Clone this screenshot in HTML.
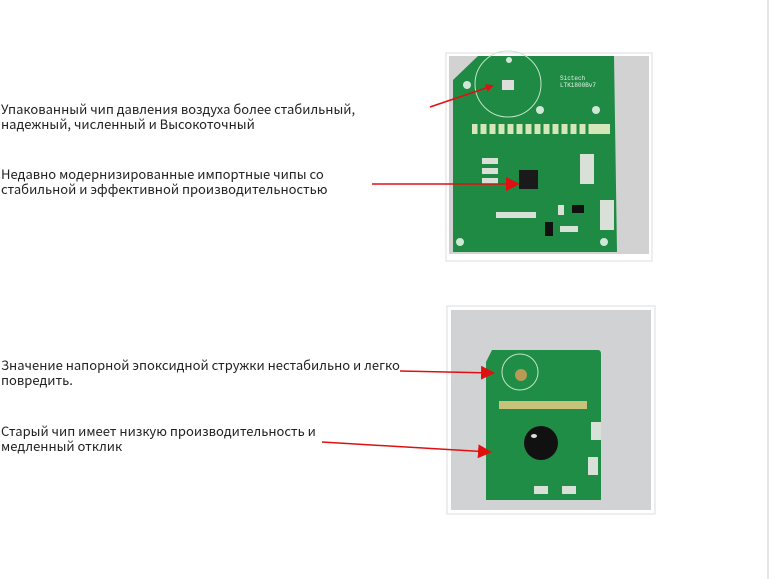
<!DOCTYPE html>
<html><head><meta charset="utf-8"><style>
body{margin:0;width:774px;height:579px;background:#fff;position:relative;overflow:hidden;font-family:"Noto Sans CJK SC","Liberation Sans",sans-serif;}
.t{position:absolute;left:1px;font-size:13px;line-height:15px;color:#222;white-space:nowrap;}
svg{position:absolute;left:0;top:0}
</style></head><body>
<svg width="774" height="579">
<defs><marker id="a" markerWidth="8" markerHeight="8" refX="6" refY="4" orient="auto" markerUnits="userSpaceOnUse"><path d="M0,0 L8,4 L0,8z" fill="#e01010"/></marker>
<marker id="b" markerWidth="14" markerHeight="14" refX="12" refY="7" orient="auto" markerUnits="userSpaceOnUse"><path d="M0,0 L14,7 L0,14z" fill="#e01010"/></marker></defs>
<line x1="768" y1="0" x2="768" y2="579" stroke="#e4e4e4" stroke-width="2"/>
<rect x="446" y="53" width="206" height="208" fill="#fff" stroke="#ddd"/>
<rect x="449" y="56" width="200" height="198" fill="#d2d2d2"/>
<path d="M478,56 L614,56 L617,252 L453,252 L453,80 Z" fill="#1e8a43"/>
<circle cx="508" cy="84" r="33" fill="none" stroke="#bfe5c9" stroke-width="1"/>
<rect x="502" y="80" width="12" height="10" fill="#ddd"/>
<g fill="#cfe8d6"><circle cx="467" cy="85" r="4"/><circle cx="540" cy="110" r="4"/><circle cx="596" cy="110" r="4"/><circle cx="509" cy="60" r="3"/><circle cx="460" cy="242" r="4"/><circle cx="604" cy="242" r="4"/></g>
<rect x="472" y="124" width="138" height="10" fill="#d5e6b8"/>
<g stroke="#1e8a43" stroke-width="3"><line x1="479" y1="124" x2="479" y2="134"/><line x1="488" y1="124" x2="488" y2="134"/><line x1="497" y1="124" x2="497" y2="134"/><line x1="506" y1="124" x2="506" y2="134"/><line x1="515" y1="124" x2="515" y2="134"/><line x1="524" y1="124" x2="524" y2="134"/><line x1="533" y1="124" x2="533" y2="134"/><line x1="542" y1="124" x2="542" y2="134"/><line x1="551" y1="124" x2="551" y2="134"/><line x1="560" y1="124" x2="560" y2="134"/><line x1="569" y1="124" x2="569" y2="134"/><line x1="578" y1="124" x2="578" y2="134"/><line x1="587" y1="124" x2="587" y2="134"/></g>
<rect x="519" y="170" width="19" height="19" fill="#1a1a1a"/>
<g fill="#d8e0d8"><rect x="482" y="158" width="16" height="6"/><rect x="482" y="168" width="16" height="6"/><rect x="482" y="178" width="16" height="6"/><rect x="496" y="212" width="40" height="6"/><rect x="558" y="205" width="6" height="10"/><rect x="560" y="226" width="18" height="6"/><rect x="580" y="154" width="14" height="30"/><rect x="600" y="200" width="14" height="30"/></g>
<rect x="572" y="205" width="12" height="8" fill="#111"/><rect x="545" y="222" width="8" height="14" fill="#111"/>
<text x="560" y="80" font-family="Liberation Mono" font-size="6" fill="#e8f3ea">Sictech</text>
<text x="560" y="87" font-family="Liberation Mono" font-size="6" fill="#e8f3ea">LTK1800Bv7</text>
<rect x="447" y="306" width="208" height="208" fill="#fff" stroke="#ddd"/>
<rect x="451" y="310" width="200" height="200" fill="#d0d2d3"/>
<path d="M492,350 L598,350 Q601,350 601,354 L601,500 L486,500 L486,362 Z" fill="#1f8d45"/>
<circle cx="520" cy="372" r="18" fill="none" stroke="#bfe5c9" stroke-width="1"/>
<circle cx="521" cy="375" r="6" fill="#b89a55"/>
<rect x="499" y="401" width="88" height="8" fill="#c8c27a"/>
<circle cx="541" cy="443" r="17" fill="#111"/>
<ellipse cx="534" cy="436" rx="3" ry="2" fill="#ddd"/>
<g fill="#d8e0d8"><rect x="591" y="422" width="10" height="18"/><rect x="588" y="457" width="10" height="18"/><rect x="534" y="486" width="14" height="8"/><rect x="562" y="486" width="14" height="8"/></g>
<line x1="430" y1="107" x2="492" y2="86" stroke="#e01010" stroke-width="1.5" marker-end="url(#a)"/>
<line x1="372" y1="184" x2="518" y2="184" stroke="#e01010" stroke-width="1.5" marker-end="url(#b)"/>
<line x1="400" y1="371" x2="493" y2="373" stroke="#e01010" stroke-width="1.5" marker-end="url(#b)"/>
<line x1="322" y1="442" x2="490" y2="452" stroke="#e01010" stroke-width="1.5" marker-end="url(#b)"/>
</svg>
<div class="t" style="top:101px">Упакованный чип давления воздуха более стабильный,<br>надежный, численный и Высокоточный</div>
<div class="t" style="top:166px">Недавно модернизированные импортные чипы со<br>стабильной и эффективной производительностью</div>
<div class="t" style="top:357px">Значение напорной эпоксидной стружки нестабильно и легко<br>повредить.</div>
<div class="t" style="top:423px">Старый чип имеет низкую производительность и<br>медленный отклик</div>
</body></html>
